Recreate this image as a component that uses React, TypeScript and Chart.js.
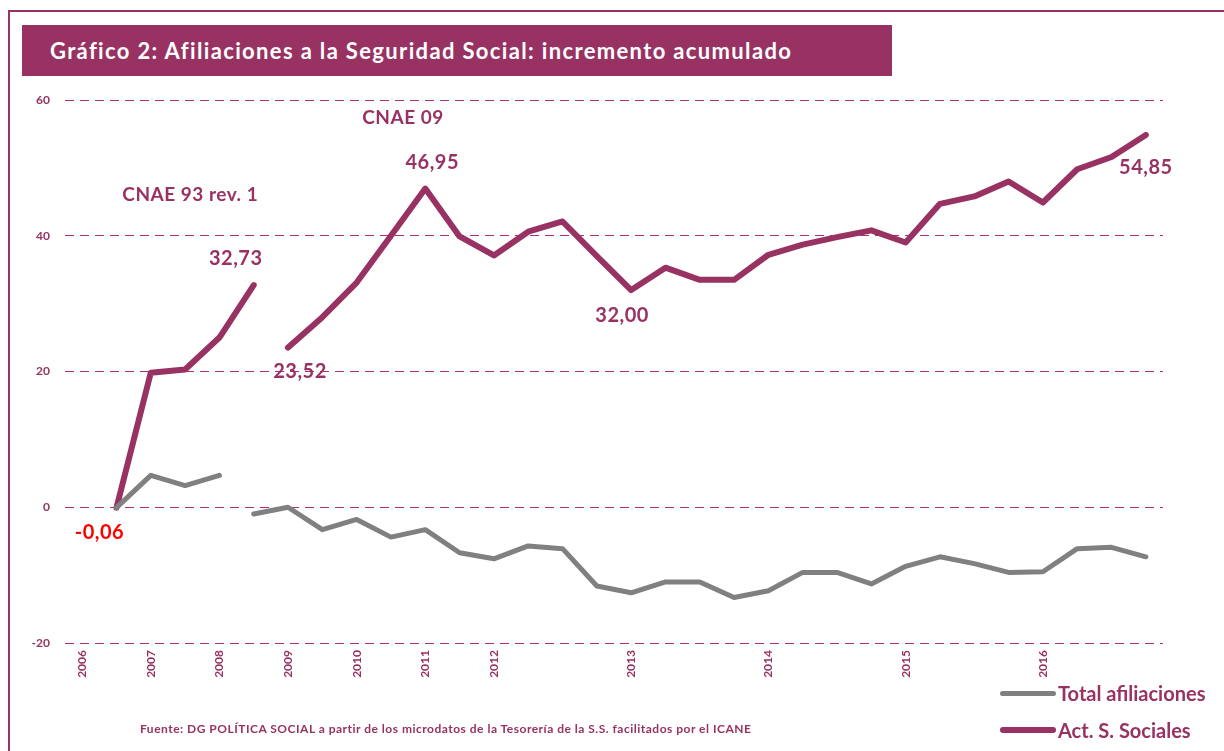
import React, { useEffect, useRef } from "react";
import { Chart, registerables } from "chart.js";

Chart.register(...registerables);

// ---- Data ----
const categories: string[] = [
  "2006", "", "2007", "", "2008", "", "2009", "", "2010", "", "2011", "", "2012", "", "", "",
  "2013", "", "", "", "2014", "", "", "", "2015", "", "", "", "2016", "", "", "",
];

const actSSociales: (number | null)[] = [
  null, -0.06, 19.8, 20.3, 25.0, 32.73, 23.52, 28.0, 33.1, 40.0, 46.95, 39.9, 37.1, 40.6, 42.1, 37.0,
  32.0, 35.3, 33.5, 33.5, 37.2, 38.7, 39.8, 40.8, 39.0, 44.7, 45.8, 48.0, 44.9, 49.8, 51.6, 54.85,
];

const totalAfiliaciones: (number | null)[] = [
  null, -0.05, 4.7, 3.2, 4.7, -1.0, 0.0, -3.3, -1.8, -4.4, -3.3, -6.7, -7.6, -5.7, -6.1, -11.6,
  -12.6, -11.0, -11.0, -13.3, -12.3, -9.6, -9.6, -11.3, -8.7, -7.3, -8.3, -9.6, -9.5, -6.1, -5.9, -7.3,
];

// series break (methodology change CNAE 93 -> CNAE 09)
const purpleBreakAfter = 5;
const grayBreakAfter = 4;

const yTicks = [-20, 0, 20, 40, 60];

// value labels: category index, text
const valueLabelIdx = [1, 5, 6, 10, 16, 31];
const valueLabelText = ["-0,06", "32,73", "23,52", "46,95", "32,00", "54,85"];

// free annotations: (fractional index, value, text)
const noteIdx = [3.15, 9.35];
const noteVal = [46, 57.4];
const noteText = ["CNAE 93 rev. 1", "CNAE 09"];

// ---- Styles ----
const PURPLE = "#983262";
const GRAY = "#808080";
const FONT = "Lato, 'Open Sans', sans-serif";
const valueLabelOffset: [number, number][] = [[-17, 25], [-18, -27], [12, 24], [7, -26], [-9, 25], [0, 33]];
const valueLabelColor = ["#ff0000", PURPLE, PURPLE, PURPLE, PURPLE, PURPLE];

const annotationPlugin = {
  id: "annots",
  afterDatasetsDraw(chart: any) {
    const ctx = chart.ctx;
    const xs = chart.scales.x;
    const ys = chart.scales.y;
    ctx.save();
    ctx.textAlign = "center";
    ctx.textBaseline = "middle";
    ctx.font = `bold 20px ${FONT}`;
    try { ctx.letterSpacing = "0.5px"; } catch (e) {}
    valueLabelIdx.forEach((idx, i) => {
      const v = actSSociales[idx] as number;
      const px = xs.getPixelForValue(idx) + valueLabelOffset[i][0];
      const py = ys.getPixelForValue(v) + valueLabelOffset[i][1];
      ctx.fillStyle = valueLabelColor[i];
      ctx.fillText(valueLabelText[i], px, py);
    });
    ctx.fillStyle = PURPLE;
    ctx.font = `bold 19px ${FONT}`;
    noteIdx.forEach((idx, i) => {
      ctx.fillText(noteText[i], xs.getPixelForValue(idx), ys.getPixelForValue(noteVal[i]));
    });
    ctx.restore();
  },
};

export default function App() {
  const ref = useRef<HTMLCanvasElement>(null);

  useEffect(() => {
    if (!ref.current) return;
    const chart = new Chart(ref.current, {
      type: "line",
      data: {
        labels: categories,
        datasets: [
          {
            label: "Total afiliaciones",
            data: totalAfiliaciones,
            borderColor: GRAY,
            borderWidth: 5,
            pointRadius: 0,
            borderCapStyle: "round",
            borderJoinStyle: "round",
            tension: 0,
            segment: {
              borderColor: (c: any) => (c.p0DataIndex === grayBreakAfter ? "rgba(0,0,0,0)" : GRAY),
            },
          },
          {
            label: "Act. S. Sociales",
            data: actSSociales,
            borderColor: PURPLE,
            borderWidth: 6,
            pointRadius: 0,
            borderCapStyle: "round",
            borderJoinStyle: "round",
            tension: 0,
            segment: {
              borderColor: (c: any) => (c.p0DataIndex === purpleBreakAfter ? "rgba(0,0,0,0)" : PURPLE),
            },
          },
        ],
      },
      options: {
        responsive: false,
        maintainAspectRatio: false,
        animation: false,
        layout: { padding: { left: 0, right: 61, top: 100, bottom: 0 } },
        plugins: {
          legend: { display: false },
          tooltip: { enabled: false },
          title: { display: false },
        },
        scales: {
          x: {
            type: "category",
            offset: true,
            grid: { display: false, drawTicks: false },
            border: { display: false },
            ticks: {
              autoSkip: false,
              maxRotation: 90,
              minRotation: 90,
              padding: 7,
              color: PURPLE,
              font: { family: FONT, size: 12, weight: "bold" },
            },
            afterFit: (s: any) => {
              s.height = 108;
            },
          },
          y: {
            min: -20,
            max: 60,
            afterBuildTicks: (s: any) => {
              s.ticks = yTicks.map((v) => ({ value: v }));
            },
            grid: {
              color: "#a8306e",
              lineWidth: 1,
              drawTicks: false,
            },
            border: { display: false, dash: [9, 6] },
            ticks: {
              padding: 15,
              color: PURPLE,
              font: { family: FONT, size: 12, weight: "bold" },
            },
            afterFit: (s: any) => {
              s.width = 65;
            },
          },
        },
      },
      plugins: [annotationPlugin],
    } as any);
    return () => chart.destroy();
  }, []);

  const legendItems = [
    { text: "Total afiliaciones", color: GRAY, h: 5, top: 681 },
    { text: "Act. S. Sociales", color: PURPLE, h: 6, top: 718 },
  ];

  return (
    <div
      style={{
        position: "fixed",
        left: 0,
        top: 0,
        width: 1224,
        height: 751,
        overflow: "hidden",
        background: "#fff",
        fontFamily: FONT,
      }}
    >
      <div
        style={{
          position: "absolute",
          left: 8,
          top: 10,
          width: 1300,
          height: 800,
          border: `2px solid ${PURPLE}`,
          boxSizing: "border-box",
        }}
      />
      <canvas ref={ref} width={1224} height={751} style={{ position: "absolute", left: 0, top: 0 }} />
      <div
        style={{
          position: "absolute",
          left: 22,
          top: 25,
          width: 870,
          height: 51,
          background: PURPLE,
          color: "#fff",
          fontWeight: 700,
          fontSize: 22,
          letterSpacing: 1.35,
          lineHeight: "51px",
          paddingLeft: 28,
          boxSizing: "border-box",
          whiteSpace: "nowrap",
        }}
      >
        Gráfico 2: Afiliaciones a la Seguridad Social: incremento acumulado
      </div>
      <div
        style={{
          position: "absolute",
          left: 140,
          top: 721,
          color: PURPLE,
          fontWeight: 700,
          fontSize: 12,
          letterSpacing: 0.5,
          whiteSpace: "nowrap",
        }}
      >
        Fuente: DG POLÍTICA SOCIAL a partir de los microdatos de la Tesorería de la S.S. facilitados por el ICANE
      </div>
      {legendItems.map((it) => (
        <div key={it.text} style={{ position: "absolute", left: 1000, top: it.top, height: 24 }}>
          <div
            style={{
              position: "absolute",
              left: 0,
              top: 12 - it.h / 2,
              width: 56,
              height: it.h,
              borderRadius: it.h / 2,
              background: it.color,
            }}
          />
          <div
            style={{
              position: "absolute",
              left: 58,
              top: 0,
              lineHeight: "24px",
              fontSize: 20,
              fontWeight: 700,
              color: PURPLE,
              whiteSpace: "nowrap",
            }}
          >
            {it.text}
          </div>
        </div>
      ))}
    </div>
  );
}
